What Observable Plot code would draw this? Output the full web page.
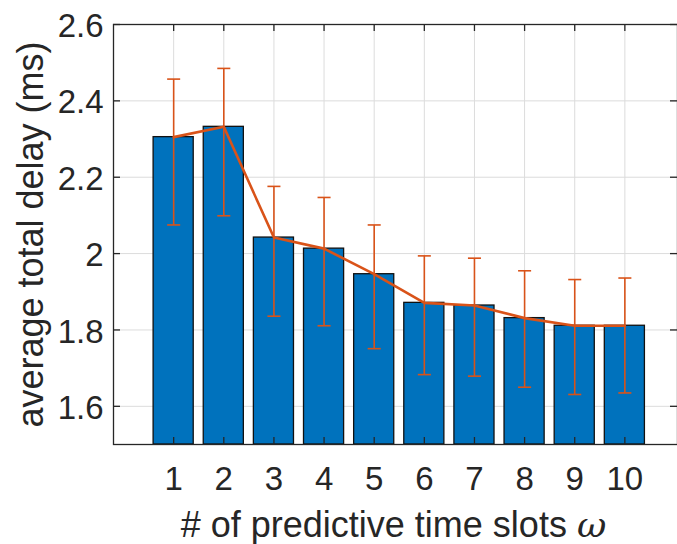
<!DOCTYPE html>
<html><head><meta charset="utf-8">
<script src="https://cdn.jsdelivr.net/npm/d3@7"></script>
<script src="https://cdn.jsdelivr.net/npm/@observablehq/plot@0.6"></script>
<style>body{margin:0;background:#fff} svg{display:block}</style>
</head><body><div id="chart"></div>
<script>
const slots = [1, 2, 3, 4, 5, 6, 7, 8, 9, 10];
const meanDelay = [2.305, 2.332, 2.042, 2.013, 1.946, 1.871, 1.864, 1.831, 1.811, 1.811];
const upperDelay = [2.457, 2.485, 2.176, 2.147, 2.075, 1.994, 1.988, 1.955, 1.932, 1.936];
const lowerDelay = [2.075, 2.099, 1.836, 1.811, 1.751, 1.683, 1.679, 1.650, 1.631, 1.635];
const yTicks = [1.6, 1.8, 2, 2.2, 2.4, 2.6];
const xTicks = [1, 2, 3, 4, 5, 6, 7, 8, 9, 10];
const yDomain = [1.5, 2.6];
const xDomain = [-0.2, 11.05];
const xLabelMain = "# of predictive time slots ";
const xLabelSym = "ω";
const yLabel = "average total delay (ms)";

const data = slots.map((s, i) => ({slot: s, mean: meanDelay[i], lo: lowerDelay[i], hi: upperDelay[i]}));
const W = 677, H = 544, mL = 113, mR = 0, mT = 24, mB = 100;
const pw = W - mL - mR, ph = H - mT - mB;
const axisColor = "#262626";
const barColor = "#0072BD";
const errColor = "#D95319";
const gridColor = "#dcdcdc";
const font = "'Liberation Sans', Arial, Helvetica, sans-serif";
const barHalf = 0.4, capHalf = 0.13, tickLen = 7;

const chart = Plot.plot({
  width: W, height: H,
  marginLeft: mL, marginRight: mR, marginTop: mT, marginBottom: mB,
  style: {color: axisColor, fontFamily: font, background: "#fff"},
  x: {type: "linear", domain: xDomain},
  y: {type: "linear", domain: yDomain},
  marks: [
    Plot.gridY(yTicks, {stroke: gridColor, strokeOpacity: 1, strokeWidth: 1}),
    Plot.gridX(xTicks, {stroke: gridColor, strokeOpacity: 1, strokeWidth: 1}),
    Plot.rect(data, {x1: d => d.slot - barHalf, x2: d => d.slot + barHalf, y1: d => yDomain[0], y2: "mean",
      fill: barColor, stroke: "#111", strokeWidth: 1.3}),
    Plot.link(data, {x1: "slot", x2: "slot", y1: "lo", y2: "hi", stroke: errColor, strokeWidth: 1.6}),
    Plot.link(data, {x1: d => d.slot - capHalf, x2: d => d.slot + capHalf, y1: "hi", y2: "hi", stroke: errColor, strokeWidth: 1.6}),
    Plot.link(data, {x1: d => d.slot - capHalf, x2: d => d.slot + capHalf, y1: "lo", y2: "lo", stroke: errColor, strokeWidth: 1.6}),
    Plot.line(data, {x: "slot", y: "mean", stroke: errColor, strokeWidth: 2.6}),
    Plot.ruleY(yTicks, {insetRight: pw - tickLen, stroke: axisColor, strokeWidth: 1.3}),
    Plot.ruleY(yTicks, {insetLeft: pw - tickLen, stroke: axisColor, strokeWidth: 1.3}),
    Plot.ruleX(xTicks, {insetTop: ph - tickLen, stroke: axisColor, strokeWidth: 1.3}),
    Plot.ruleX(xTicks, {insetBottom: ph - tickLen, stroke: axisColor, strokeWidth: 1.3}),
    Plot.frame({stroke: axisColor, strokeWidth: 1.3}),
    Plot.axisY({ticks: yTicks, tickSize: 0, tickPadding: 10, tickFormat: d => String(d), fontSize: 33, label: null, dy: 2}),
    Plot.axisX({ticks: xTicks, tickSize: 0, tickPadding: 22, tickFormat: d => String(d), fontSize: 33, label: null}),
    Plot.text([yLabel], {text: d => d, frameAnchor: "left", textAnchor: "middle", lineAnchor: "middle", dx: -82.5, rotate: -90, fontSize: 36, fill: axisColor}),
    Plot.text([xLabelMain + xLabelSym], {text: d => d, frameAnchor: "bottom", textAnchor: "middle", lineAnchor: "middle", dy: 81, dx: -2, fontSize: 36, fill: axisColor})
  ]
});
document.getElementById("chart").appendChild(chart);

// style the omega symbol as italic math symbol
d3.select(chart).selectAll("text").filter(function() { return this.textContent === xLabelMain + xLabelSym; })
  .each(function() {
    const t = d3.select(this);
    t.text(null);
    t.append("tspan").text(xLabelMain);
    t.append("tspan").attr("font-style", "italic").attr("font-family", "'DejaVu Serif', serif").text(xLabelSym);
  });
</script>
</body></html>
